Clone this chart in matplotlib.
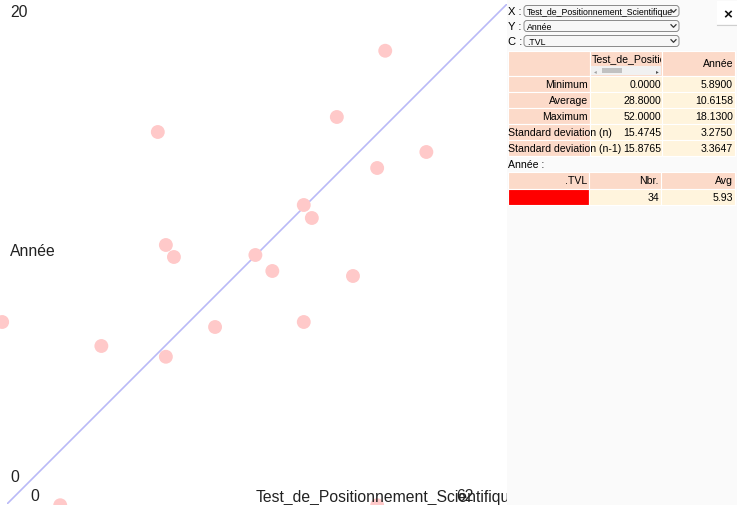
import matplotlib
matplotlib.use('Agg')
import matplotlib.pyplot as plt
from matplotlib.patches import Rectangle, FancyBboxPatch

# donnees du nuage de points
x_vals = [46.9, 18.7, 40.9, 52.0, 45.9, 36.8, 37.8, 19.7, 20.7, 30.8,
          32.9, 42.9, -0.6, 36.8, 25.8, 11.7, 19.7, 6.6, 45.9]
y_vals = [18.13, 14.88, 15.48, 14.08, 13.44, 11.96, 11.44, 10.36, 9.88, 9.96,
          9.32, 9.12, 7.28, 7.28, 7.08, 6.32, 5.89, -0.05, -0.05]

x_name = 'Test_de_Positionnement_Scientifique'
y_name = 'Année'
c_name = '.TVL'
x_range = [0, 62]
y_range = [0, 20]

stat_names = ['Minimum', 'Average', 'Maximum', 'Standard deviation (n)', 'Standard deviation (n-1)']
stat_x = [0.0, 28.8, 52.0, 15.4745, 15.8765]
stat_y = [5.89, 10.6158, 18.13, 3.2750, 3.3647]

group_count = [34]
group_avg = [5.93]
group_color = ['#ff0000']

W, H = 737, 506
plt.rcParams['font.family'] = ['Liberation Sans', 'DejaVu Sans']

fig = plt.figure(figsize=(W / 100, H / 100), dpi=100)

# zone du graphe : 500x500 px
ax = fig.add_axes([7 / W, 1 - 505 / H, 500 / W, 500 / H])
ax.set_xlim(x_range)
ax.set_ylim(y_range)
ax.axis('off')
ax.plot(x_range, y_range, color='#b9b9f7', lw=1.2, zorder=1)
ax.scatter(x_vals, y_vals, s=100, color='#ffc9c9', edgecolors='none', zorder=2, clip_on=False)

# calque en pixels pour les textes et le panneau
ov = fig.add_axes([0, 0, 1, 1])
ov.set_xlim(0, W)
ov.set_ylim(H, 0)
ov.axis('off')
ov.patch.set_alpha(0)

lab = dict(fontsize=11.3, color='#222222', va='center', zorder=3)
ov.text(10, 12, str(y_range[1]), ha='left', **lab)
ov.text(10, 252, y_name, ha='left', **lab)
ov.text(10, 478, str(y_range[0]), ha='left', **lab)
ov.text(30, 497, str(x_range[0]), ha='left', **lab)
ov.text(256, 497, x_name, ha='left', **lab)
ov.text(456, 497, str(x_range[1]), ha='left', **lab)

# panneau de droite
ov.add_patch(Rectangle((507, 0), W - 507, H, facecolor='#fafafa', edgecolor='none', zorder=5))
ov.add_patch(Rectangle((717, 2), 20, 23, facecolor='white', edgecolor='none', zorder=6))
ov.plot([717, 737], [25.5, 25.5], color='#cfcfcf', lw=0.8, zorder=7)
ov.text(728, 15, '×', fontsize=11, fontweight='bold', ha='center', va='center', color='#111111', zorder=7)

fs = 7.6
salmon = '#fcdac9'
cream = '#fff4dd'

for lbl, val, yc in [('X :', x_name, 12), ('Y :', y_name, 27), ('C :', c_name, 42)]:
    ov.text(508, yc, lbl, fontsize=fs + 0.4, ha='left', va='center', zorder=7)
    ov.add_patch(FancyBboxPatch((524, yc - 5.5), 155, 11, boxstyle='round,pad=0,rounding_size=3',
                                facecolor='#f7f7f7', edgecolor='#8a8a8a', lw=0.7, zorder=6))
    ov.text(527, yc, val, fontsize=6.3, ha='left', va='center', zorder=7)
    ov.plot([671, 673.5, 676], [yc - 1.3, yc + 1.3, yc - 1.3], color='#333333', lw=0.9, zorder=7)


def cell(x0, x1, y0, y1, color):
    ov.add_patch(Rectangle((x0, y0), x1 - x0, y1 - y0, facecolor=color,
                           edgecolor='white', lw=0.8, zorder=6))


# tableau des statistiques
cols = [508, 590, 662, 735]
rows = [52, 77, 93, 109, 125, 141, 157]
cell(cols[0], cols[1], rows[0], rows[1], salmon)
cell(cols[1], cols[2], rows[0], rows[1], salmon)
cell(cols[2], cols[3], rows[0], rows[1], salmon)
head = ov.text(592, 60, x_name, fontsize=fs, ha='left', va='center', zorder=7)
head.set_clip_on(True)
head.set_clip_path(Rectangle((591, 52), 70, 25, transform=ov.transData))
# petite barre de defilement sous l'en-tete
ov.add_patch(Rectangle((591, 67), 70, 9, facecolor='#f1f1f1', edgecolor='none', zorder=7))
ov.add_patch(Rectangle((602, 69), 20, 5, facecolor='#c1c1c1', edgecolor='none', zorder=8))
ov.text(595, 71.5, '◂', fontsize=4, color='#a0a0a0', ha='center', va='center', zorder=8)
ov.text(657, 71.5, '▸', fontsize=4, color='#505050', ha='center', va='center', zorder=8)
ov.text(733, 64, y_name, fontsize=fs, ha='right', va='center', zorder=7)

for i, name in enumerate(stat_names):
    y0, y1 = rows[i + 1], rows[i + 2]
    cell(cols[0], cols[1], y0, y1, salmon)
    cell(cols[1], cols[2], y0, y1, cream)
    cell(cols[2], cols[3], y0, y1, cream)
    yc = (y0 + y1) / 2
    if len(name) > 10:
        ov.text(508, yc, name, fontsize=fs, ha='left', va='center', zorder=8)
    else:
        ov.text(588, yc, name, fontsize=fs, ha='right', va='center', zorder=8)
    ov.text(661, yc, '{:.4f}'.format(stat_x[i]), fontsize=fs, ha='right', va='center', zorder=8)
    ov.text(733, yc, '{:.4f}'.format(stat_y[i]), fontsize=fs, ha='right', va='center', zorder=8)

ov.text(508, 165, y_name + ' :', fontsize=fs, ha='left', va='center', zorder=7)

# tableau par groupe
cols2 = [508, 589, 661, 735]
rows2 = [173, 189.5, 206]
for j in range(3):
    cell(cols2[j], cols2[j + 1], rows2[0], rows2[1], salmon)
ov.text(587, 181, c_name, fontsize=fs, ha='right', va='center', zorder=7)
ov.text(659, 181, 'Nbr.', fontsize=fs, ha='right', va='center', zorder=7)
ov.text(733, 181, 'Avg', fontsize=fs, ha='right', va='center', zorder=7)
for k in range(len(group_count)):
    y0, y1 = rows2[k + 1], rows2[k + 1] + 16.5
    cell(cols2[0], cols2[1], y0, y1, group_color[k])
    cell(cols2[1], cols2[2], y0, y1, cream)
    cell(cols2[2], cols2[3], y0, y1, cream)
    yc = (y0 + y1) / 2
    ov.text(659, yc, str(group_count[k]), fontsize=fs, ha='right', va='center', zorder=7)
    ov.text(733, yc, '{:.2f}'.format(group_avg[k]), fontsize=fs, ha='right', va='center', zorder=7)

fig.savefig('out.png', dpi=100)
